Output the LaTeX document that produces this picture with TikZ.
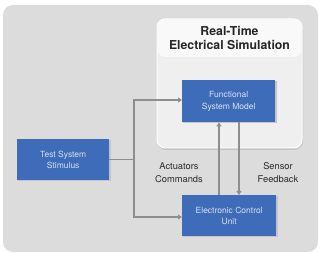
\documentclass[tikz,border=0pt]{standalone}
\usepackage{fontspec}
\setmainfont{TeX Gyre Heros}
\usetikzlibrary{arrows.meta}
\definecolor{bggray}{HTML}{DCDCDC}
\definecolor{panel}{HTML}{EFEFEF}
\definecolor{boxblue}{HTML}{3F6CB9}
\definecolor{boxtext}{HTML}{D5E2F5}
\definecolor{arrowgray}{HTML}{8E8E8E}
\definecolor{labeltext}{HTML}{2A2A2A}
\definecolor{shadowgray}{HTML}{C4C4C4}
\begin{document}
\begin{tikzpicture}[x=1pt,y=-1pt,
  bluebox/.style={fill=boxblue, draw=none, anchor=north west, inner sep=0pt},
  boxlabel/.style={text=boxtext, font=\fontsize{8.5}{11.5}\selectfont, align=center},
  conn/.style={draw=arrowgray, line width=1.6pt, -{Triangle[length=4pt,width=5pt]}},
  lab/.style={text=labeltext, font=\fontsize{9.3}{12.5}\selectfont, align=center}]
\useasboundingbox (0,0) rectangle (321,253);
\fill[white] (0,0) rectangle (321,253);
\fill[bggray, rounded corners=10pt] (3,5) rectangle (318,252);
\fill[shadowgray, rounded corners=9pt] (157,21) rectangle (303,150);
\fill[panel, rounded corners=8pt, draw=white, line width=1pt] (157,19) rectangle (302,148);
\fill[white!60!panel, rounded corners=8pt] (157.5,19.5) -- (301.5,19.5) -- (301.5,57) -- (157.5,57) -- cycle;
\draw[white!85!gray, line width=0.6pt] (158,57) -- (301,57);
\node[font=\bfseries\fontsize{12.3}{14}\selectfont, text=black!85, align=center] (title) at (229.5,38) {Real-Time\\Electrical Simulation};
\fill[shadowgray] (183,81.5) rectangle (276.5,123.5);
\fill[shadowgray] (18,140.5) rectangle (110.5,181.5);
\fill[shadowgray] (183,196.5) rectangle (277.5,237.5);
\node[bluebox, minimum width=93pt, minimum height=42pt] (fsm) at (182,80) {};
\node[boxlabel] (fsmt) at (fsm.center) {Functional\\System Model};
\node[bluebox, minimum width=92pt, minimum height=41pt] (tss) at (17,139) {};
\node[boxlabel] (tsst) at (tss.center) {Test System\\Stimulus};
\node[bluebox, minimum width=94pt, minimum height=41pt] (ecu) at (182,195) {};
\node[boxlabel] (ecut) at (ecu.center) {Electronic Control\\Unit};
\coordinate (j) at (134,159.5);
\draw[draw=arrowgray, line width=1.6pt] (tss.east |- j) -- (j);
\draw[conn] (j) |- (fsm.west |- 0,100);
\draw[conn] (j) |- (ecu.west |- 0,217);
\draw[conn] (ecu.north -| 219,0) -- (fsm.south -| 219,0);
\draw[conn] (fsm.south -| 239,0) -- (ecu.north -| 239,0);
\node[lab] (act) at (179,172.5) {Actuators\\Commands};
\node[lab] (sen) at (278,172.5) {Sensor\\Feedback};
\end{tikzpicture}
\end{document}
